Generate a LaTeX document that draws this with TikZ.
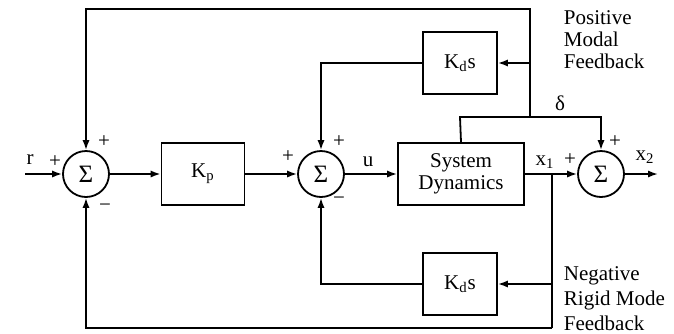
\documentclass[tikz,border=0pt]{standalone}
\usepackage{fontspec}
\setmainfont{Liberation Serif}
\usepackage{tikz}
\usetikzlibrary{arrows.meta, positioning, calc}

\begin{document}
\begin{tikzpicture}[x=0.5pt, y=-0.5pt, line width=0.9pt,
	font=\fontsize{10.5}{11}\selectfont,
	sumnode/.style={circle, draw, minimum size=23pt, inner sep=0pt,
		font=\fontsize{12.5}{12.5}\selectfont},
	blk/.style={draw, minimum height=31pt, inner sep=1pt},
	sig/.style={inner sep=0pt},
	arr/.style={-{Latex[length=5pt, width=3.6pt]}}]
	\useasboundingbox (0,0) rectangle (674,333);
	% forward path
	\coordinate (rin) at (25,174);
	\node[sumnode] (s1) at (86,174) {Σ};
	\node[blk, minimum width=41.5pt] (kp) at (203,174) {K\textsubscript{p}};
	\node[sumnode] (s2) at (321,174) {Σ};
	\node[blk, minimum width=63pt, align=center] (sys) at (461,174) {System\\Dynamics};
	\node[sumnode] (s3) at (601,174) {Σ};
	\coordinate (xout) at (658,174);
	\draw[arr] (rin) -- (s1);
	\draw[arr] (s1) -- (kp);
	\draw[arr] (kp) -- (s2);
	\draw[arr] (s2) -- (sys);
	\draw[arr] (sys) -- (s3);
	\draw[arr] (s3) -- (xout);
	% positive modal feedback
	\node[blk, minimum width=37pt] (kdt) at (460,63) {K\textsubscript{d}s};
	\coordinate (dl) at (460,117);
	\coordinate (dj) at (530,117);
	\coordinate (dt) at (530,9);
	\coordinate (dm) at (530,63);
	\draw (sys.north) -- (dl) -- (dj);
	\draw[arr] (dj) -| (s3.north);
	\draw[arr] (dj) -- (dt) -| (s1.north);
	\draw[arr] (dm) -- (kdt.east);
	\draw[arr] (kdt.west) -| (s2.north);
	% negative rigid mode feedback
	\node[blk, minimum width=37pt] (kdb) at (460,284) {K\textsubscript{d}s};
	\coordinate (xj) at (552,174);
	\coordinate (xm) at (552,284);
	\coordinate (xb) at (552,328);
	\draw (xj) -- (xb);
	\draw[arr] (xb) -| (s1.south);
	\draw[arr] (xm) -- (kdb.east);
	\draw[arr] (kdb.west) -| (s2.south);
	% signs and signal labels
	\node[sig] (lr) at (30,160) {r};
	\node[sig] (p1a) at (55,162) {+};
	\node[sig] (p1b) at (104,142) {+};
	\node[sig] (m1) at (105,208) {−};
	\node[sig] (p2a) at (288,157) {+};
	\node[sig] (p2b) at (339,142) {+};
	\node[sig] (m2) at (339,201) {−};
	\node[sig] (lu) at (368,162) {u};
	\node[sig] (lx1) at (545,162) {x\textsubscript{1}};
	\node[sig] (p3a) at (570,160) {+};
	\node[sig] (p3b) at (615,142) {+};
	\node[sig] (lx2) at (645,157) {x\textsubscript{2}};
	\node[sig] (ld) at (560,103) {δ};
	\node[sig, anchor=west, align=left] (lpos) at (563,40) {Positive\\Modal\\Feedback};
	\node[sig, anchor=west, align=left, font=\fontsize{10.5}{12.5}\selectfont]
		(lneg) at (563,299) {Negative\\Rigid Mode\\Feedback};
\end{tikzpicture}
\end{document}
